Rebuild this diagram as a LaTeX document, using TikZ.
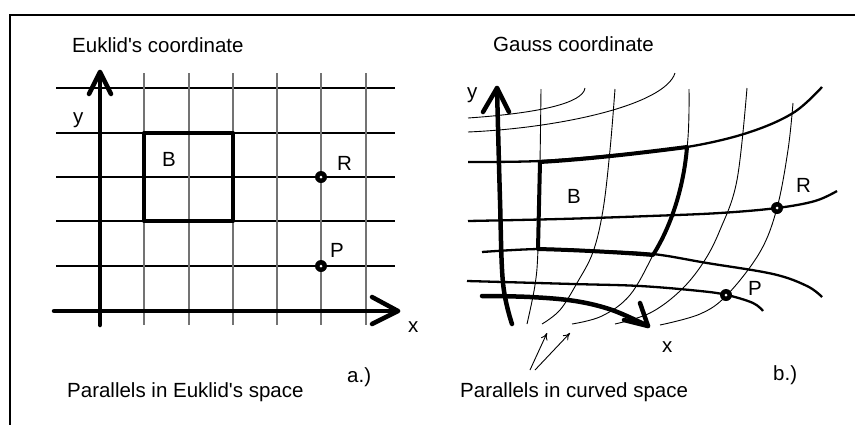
\documentclass[tikz,border=0pt]{standalone}
\usepackage{fontspec}
\setmainfont{Liberation Sans}[Ligatures=TeXOff]
\usetikzlibrary{arrows.meta}
\begin{document}
\begin{tikzpicture}[x=1pt,y=-1pt,
  lbl/.style={inner sep=0pt, anchor=base west, font=\fontsize{20.5}{24}\selectfont},
  gridh/.style={line width=1.2pt, black},
  gridv/.style={line width=1.2pt, black!55},
  axis/.style={line width=4.5pt, line cap=round, line join=round},
  chev/.style={line width=4.5pt, line cap=round, line join=round},
  boxline/.style={line width=4pt, line cap=round, line join=round},
  uline/.style={line width=2.3pt},
  vline/.style={line width=0.9pt},
  dot/.style={circle, fill=black, inner sep=0pt, minimum size=12pt,
    path picture={\fill[white] (path picture bounding box.center) circle (1.5pt);}},
  thinarrow/.style={line width=0.9pt, -{To[length=7pt,width=7pt]}}
]
\useasboundingbox (0,0) rectangle (855,424);
\fill[white] (0,0) rectangle (855,424);
% frame
\draw[line width=2.2pt] (10,430) -- (10,15) -- (860,15);

% ---------- left panel ----------
\foreach \yy in {88,133,177,221,266} \draw[gridh] (56,\yy) -- (395,\yy);
\foreach \xx in {144,189,233,277,321,366} \draw[gridv] (\xx,73) -- (\xx,325);
\coordinate (ya0) at (100,325); \coordinate (ya1) at (100,72);
\coordinate (xa0) at (54,311);  \coordinate (xa1) at (398,311);
\draw[axis] (ya0) -- (ya1);
\draw[chev] (89,94) -- (ya1) -- (111,94);
\draw[axis] (xa0) -- (xa1);
\draw[chev] (372,297) -- (xa1) -- (372,324);
\draw[boxline] (144,133) rectangle (233,221);
\node[dot] (Rl) at (321,177) {};
\node[dot] (Pl) at (321,266) {};
\node[lbl] (tEuk) at (72,52) {Euklid's coordinate};
\node[lbl] (yl) at (73,123) {y};
\node[lbl] (xl) at (408,332) {x};
\node[lbl] (Bl) at (162,166) {B};
\node[lbl] (Rlbl) at (337,170) {R};
\node[lbl] (Plbl) at (330,257) {P};
\node[lbl] (al) at (347,382) {a.)};
\node[lbl] (pEuk) at (67,397) {Parallels in Euklid's space};

% ---------- right panel ----------
% thin u-lines
\draw[vline] (468,118) .. controls (540,113) and (583,103) .. (585,88);
\draw[vline] (468,132) .. controls (560,128) and (665,105) .. (675,73);
% v-lines
\draw[vline] plot[smooth,tension=0.6] coordinates {(541,89) (540,162) (538,249) (535,285) (527,324)};
\draw[vline] plot[smooth,tension=0.6] coordinates {(615,89) (610,150) (603,210) (593,252) (577,283) (560,310) (542,324)};
\draw[vline] plot[smooth,tension=0.6] coordinates {(689,89) (687,148) (673,213) (653,255) (630,295) (602,316) (572,324)};
\draw[vline] plot[smooth,tension=0.6] coordinates {(747,88) (737,180) (720,230) (703,263) (680,291) (650,313) (615,324)};
\draw[vline] plot[smooth,tension=0.6] coordinates {(793,103) (788,150) (777,208) (760,252) (727,295) (700,314) (660,325)};
% medium u-lines
\draw[uline] plot[smooth,tension=0.6] coordinates {(468,162) (540,161) (615,155) (687,147) (747,133) (793,113) (822,87)};
\draw[uline] plot[smooth,tension=0.6] coordinates {(468,221) (560,219) (650,216) (720,213) (777,208) (815,201) (837,191)};
\draw[uline] plot[smooth,tension=0.6] coordinates {(482,252) (540,249) (600,251) (653,254) (707,263) (773,274) (807,286) (822,297)};
\draw[uline] plot[smooth,tension=0.6] coordinates {(467,281) (573,284) (640,286) (700,291) (727,295) (753,303) (763,311)};
% box B (curved)
\draw[boxline] (538,249) -- (540,162)
  .. controls (590,159) and (640,153) .. (687,147)
  .. controls (684,185) and (672,225) .. (653,255)
  .. controls (615,252) and (575,250) .. (538,249);
% curved axes
\coordinate (yb0) at (512,324); \coordinate (yb1) at (497,88);
\draw[axis] plot[smooth,tension=0.6] coordinates {(yb0) (503,283) (500,200) (yb1)};
\draw[chev] (483,112) -- (yb1) -- (509,112);
\coordinate (xb0) at (482,296); \coordinate (xb1) at (648,326);
\draw[axis] plot[smooth,tension=0.6] coordinates {(xb0) (530,297) (575,301) (612,310) (xb1)};
\draw[chev] (640,303) -- (xb1) -- (624,320);
\node[dot] (Rr) at (777,208) {};
\node[dot] (Pr) at (726,295) {};
% thin pointer arrows
\coordinate (p0) at (530,370); \coordinate (p1) at (547,333);
\coordinate (q0) at (535,370); \coordinate (q1) at (570,333);
\draw[thinarrow] (p0) -- (p1);
\draw[thinarrow] (q0) -- (q1);
\node[lbl] (tGau) at (493,51) {Gauss coordinate};
\node[lbl] (yr) at (467,98) {y};
\node[lbl] (xr) at (662,352) {x};
\node[lbl] (Br) at (567,203) {B};
\node[lbl] (Rrl) at (796,192) {R};
\node[lbl] (Prl) at (748,295) {P};
\node[lbl] (bl) at (773,380) {b.)};
\node[lbl] (pCur) at (460,397) {Parallels in curved space};
\end{tikzpicture}
\end{document}
